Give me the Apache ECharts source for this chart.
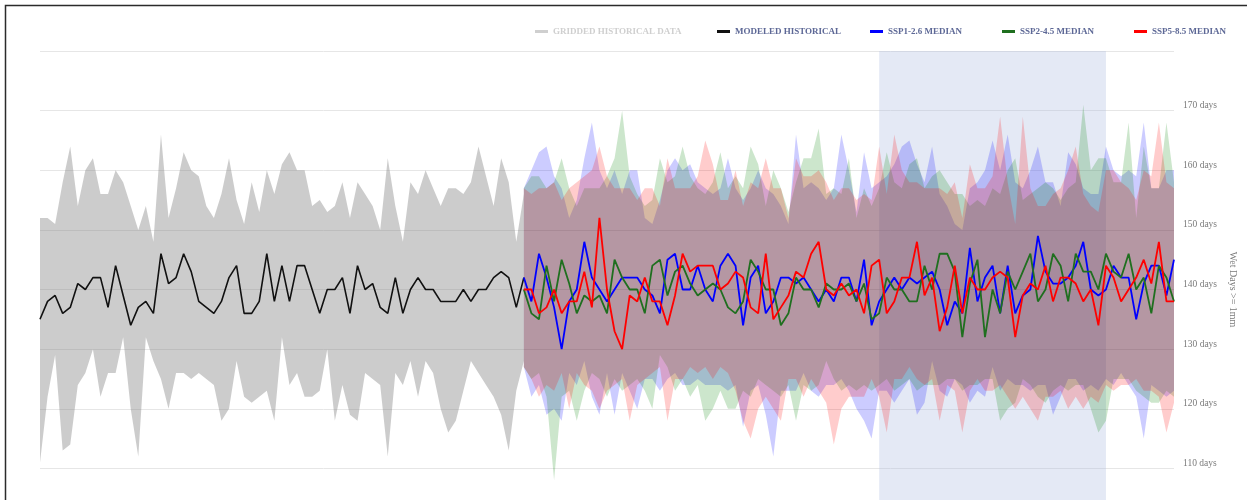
<!DOCTYPE html>
<html>
<head>
<meta charset="utf-8">
<script src="https://cdn.jsdelivr.net/npm/echarts@6/dist/echarts.min.js"></script>
<style>
  html, body { margin: 0; padding: 0; background: #fff; }
  #chart { width: 1247px; height: 500px; }
</style>
</head>
<body>
<div id="chart"></div>
<script>
// Years on the category axis, 1950–2100
const years = [];
for (let y = 1950; y <= 2100; y++) years.push(String(y));

// Observed gridded series (hidden by default in the legend)
const griddedHistorical = [];

// Modeled historical, 1950–2014: median and min/max envelope
const histMedian = [135,138,139,136,137,141,140,142,142,137, 144,139,134,137,138,136,146,141,142,146,
  143,138,137,136,138,142,144,136,136,138, 146,138,144,138,144,144,140,136,140,140,
  142,136,144,140,141,137,136,142,136,140, 142,140,140,138,138,138,140,138,140,140, 142,143,142,137,142];
const histUpper = [152,152,151,158,164,154,160,162,156,156, 160,158,154,150,154,148,166,152,157,163,
  160,159,154,152,156,162,155,151,158,153, 160,156,161,163,160,160,154,155,153,154,
  158,152,158,156,154,150,162,154,148,158, 156,160,157,154,157,157,156,158,164,159, 154,162,158,148,156];
const histLower = [111,122,129,113,114,124,126,130,122,126, 126,132,120,112,132,128,125,120,126,126,
  125,126,125,124,118,120,128,122,121,122, 123,118,132,124,126,122,122,123,130,118,
  124,119,118,126,125,124,112,126,124,128, 122,128,126,120,116,118,123,128,126,124, 122,119,113,123,128];

// Scenario projections, 2014–2100: medians
const ssp126Median = [142,138,146,142,137,130,138,140,148,142, 140,138,140,142,142,142,140,139,136,145,
  146,140,140,144,140,138,144,146,144,134, 142,144,136,138,142,142,141,142,140,138,
  140,138,142,142,138,145,134,138,140,142, 140,142,141,142,143,140,134,138,136,147,
  138,142,144,136,144,136,139,140,149,143, 141,141,142,144,148,140,139,140,144,142, 142,135,141,144,144,139,145];
const ssp245Median = [140,136,135,144,138,145,141,136,139,138, 139,136,145,142,140,140,136,144,145,139,
  143,144,141,139,140,141,140,137,136,138, 145,143,140,140,134,136,142,140,140,137,
  141,140,140,141,138,141,135,136,142,140, 140,138,138,144,140,146,146,143,132,141,
  145,132,140,136,143,140,143,146,138,140, 146,144,138,146,143,143,140,146,143,142, 146,140,142,136,144,142,138];
const ssp585Median = [140,140,136,137,140,136,138,138,143,137, 152,140,133,130,139,138,142,138,138,134,
  139,146,143,144,144,144,140,141,143,142, 137,136,146,135,137,139,143,142,146,148,
  140,139,141,139,140,136,144,145,136,138, 142,142,148,139,142,133,137,144,136,142,
  140,140,142,143,142,132,139,141,140,144, 138,142,142,141,138,140,134,144,142,138, 140,142,145,141,148,138,138];

// Scenario projections: upper edge of the model spread
const ssp126Upper = [157,160,163,164,159,157,152,155,162,168, 160,157,160,156,160,160,152,151,155,160,
  162,160,161,158,157,156,157,162,157,155, 157,160,157,156,154,151,166,157,158,157,
  155,157,166,160,153,163,157,158,159,161, 164,165,161,158,164,156,154,151,150,157,
  158,160,165,160,166,158,157,160,164,158, 158,154,163,161,157,156,156,164,160,159, 160,159,168,157,157,160,160];
const ssp245Upper = [157,159,159,157,158,162,157,154,157,157, 157,159,162,170,159,156,154,155,162,158,
  159,164,159,157,156,158,163,157,159,157, 164,161,154,160,157,153,158,162,162,167,
  156,157,156,162,152,157,154,157,163,158, 157,161,162,157,159,160,158,156,156,154,
  155,154,157,156,160,162,155,156,157,158, 157,155,157,158,171,160,162,162,158,158, 168,152,164,157,157,168,158];
const ssp585Upper = [157,156,157,157,158,155,157,158,159,160, 164,159,157,157,157,155,157,157,154,162,
  157,157,157,159,165,161,155,155,160,154, 158,157,162,157,157,152,162,159,159,160,
  158,155,157,157,155,156,155,164,156,166, 160,158,158,157,157,157,156,158,152,161,
  157,157,159,169,158,151,169,157,154,154, 156,157,160,164,156,154,153,160,160,158, 157,155,160,159,168,158,157];

// Scenario projections: lower edge of the model spread
const ssp126Lower = [127,122,124,119,120,118,126,124,128,122, 119,126,119,126,123,120,125,125,123,125,
  126,124,124,125,124,124,124,123,124,117, 123,124,119,112,123,123,123,126,123,122,
  124,124,125,123,120,118,115,123,123,121, 123,125,119,121,128,123,122,125,124,121,
  123,122,127,123,125,124,124,123,124,124, 119,122,125,125,123,124,123,125,124,126, 124,122,115,124,123,122,123];
const ssp245Lower = [127,125,126,122,108,122,123,118,123,126, 125,122,125,123,124,125,123,120,129,127,
  123,125,122,124,118,120,123,120,120,123, 122,125,124,123,122,124,118,124,123,124,
  128,125,123,124,123,124,123,124,125,123, 124,125,123,124,124,124,125,125,123,124,
  124,125,125,118,120,121,125,124,122,121, 123,124,123,124,124,120,116,118,125,125, 125,123,122,121,121,123,122];
const ssp585Lower = [127,125,122,124,123,126,120,126,124,123, 120,123,124,125,118,124,125,126,127,118,
  125,125,127,126,127,125,127,126,123,118, 115,120,122,120,118,125,125,122,125,123,
  121,114,120,122,122,122,125,122,116,125, 125,127,125,124,125,118,124,123,116,123,
  125,123,123,124,122,120,122,120,118,122, 122,123,120,122,120,122,121,124,123,124, 124,125,123,123,122,116,121];

// Highlighted 30-year window
const windowStart = '2061';
const windowEnd = '2091';

// Legend entries
const legendNames = ['GRIDDED HISTORICAL DATA', 'MODELED HISTORICAL', 'SSP1-2.6 MEDIAN', 'SSP2-4.5 MEDIAN', 'SSP5-8.5 MEDIAN'];

const SERIF = '"Liberation Serif", "Times New Roman", serif';
const PROJ_OFFSET = 64; // projections begin at 2014

function alignProjection(arr) {
  return new Array(PROJ_OFFSET).fill(null).concat(arr);
}

// Envelope drawn as two stacked lines: an invisible floor plus a filled span
function envelope(key, lower, upper, fill, extra) {
  const span = upper.map((u, i) => (u == null || lower[i] == null) ? null : u - lower[i]);
  const floor = {
    name: key + ' floor', type: 'line', stack: key, data: lower,
    symbol: 'none', silent: true, z: 2,
    lineStyle: { width: 0, opacity: 0 }
  };
  Object.assign(floor, extra || {});
  return [
    floor,
    {
      name: key + ' span', type: 'line', stack: key, data: span,
      symbol: 'none', silent: true, z: 2,
      lineStyle: { width: 0, opacity: 0 },
      areaStyle: { color: fill, opacity: 1 }
    }
  ];
}

function medianLine(name, data, color, width) {
  return {
    name, type: 'line', data, symbol: 'none', showSymbol: false, z: 5,
    color, lineStyle: { color, width }, silent: true
  };
}

const chart = echarts.init(document.getElementById('chart'), null, { renderer: 'canvas' });

const series = [].concat(
  envelope('hist', histLower, histUpper, 'rgba(128,128,128,0.4)', {
    markArea: {
      silent: true,
      itemStyle: { color: 'rgba(172,188,224,0.33)' },
      data: [[{ xAxis: windowStart }, { xAxis: windowEnd }]]
    }
  }),
  envelope('ssp126', alignProjection(ssp126Lower), alignProjection(ssp126Upper), 'rgba(0,0,255,0.2)'),
  envelope('ssp245', alignProjection(ssp245Lower), alignProjection(ssp245Upper), 'rgba(0,128,0,0.2)'),
  envelope('ssp585', alignProjection(ssp585Lower), alignProjection(ssp585Upper), 'rgba(255,0,0,0.2)'),
  [
    medianLine(legendNames[0], griddedHistorical, '#9a9a9a', 1.6),
    medianLine(legendNames[1], histMedian, '#111111', 1.6),
    medianLine(legendNames[2], alignProjection(ssp126Median), '#0000ff', 1.8),
    medianLine(legendNames[3], alignProjection(ssp245Median), '#1f6f1f', 1.8),
    medianLine(legendNames[4], alignProjection(ssp585Median), '#ff0000', 1.8)
  ]
);

const legendLeft = [535, 717, 870, 1002, 1134];
const legends = legendNames.map((n, i) => {
  const l = {
    data: [n], left: legendLeft[i], top: 27,
    icon: 'rect', itemWidth: 13, itemHeight: 3, itemGap: 0, padding: 0,
    inactiveColor: '#cfcfcf',
    textStyle: { fontFamily: SERIF, fontWeight: 'bold', fontSize: 9, color: '#5d6896' }
  };
  if (i === 0) l.selected = { [n]: false };
  return l;
});

chart.setOption({
  animation: false,
  backgroundColor: '#ffffff',
  grid: { left: 40, right: 73, top: 51, height: 477, outerBoundsMode: 'none', containLabel: false },
  legend: legends,
  xAxis: {
    type: 'category', data: years, boundaryGap: false,
    axisLine: { show: false }, axisTick: { show: false },
    axisLabel: { show: false }, splitLine: { show: false }
  },
  yAxis: {
    type: 'value', position: 'right', min: 100, max: 180, interval: 10,
    axisLine: { show: false }, axisTick: { show: false },
    splitLine: { lineStyle: { color: '#e6e6e6', width: 1 } },
    axisLabel: {
      formatter: v => (v === 180 || v === 100) ? '' : v + ' days',
      fontFamily: SERIF, fontSize: 9.5, color: '#7a7a7a', margin: 9,
      verticalAlign: 'bottom'
    },
    name: 'Wet Days >= 1mm', nameLocation: 'middle', nameRotate: -90, nameGap: 51,
    nameTextStyle: { fontFamily: SERIF, fontSize: 10, color: '#7a7a7a' }
  },
  graphic: [{
    type: 'polyline', silent: true, z: 100,
    shape: { points: [[5.5, 500], [5.5, 5.5], [1247, 5.5]] },
    style: { stroke: '#2b2b2b', lineWidth: 1.5, fill: null }
  }],
  series
});
</script>
</body>
</html>
